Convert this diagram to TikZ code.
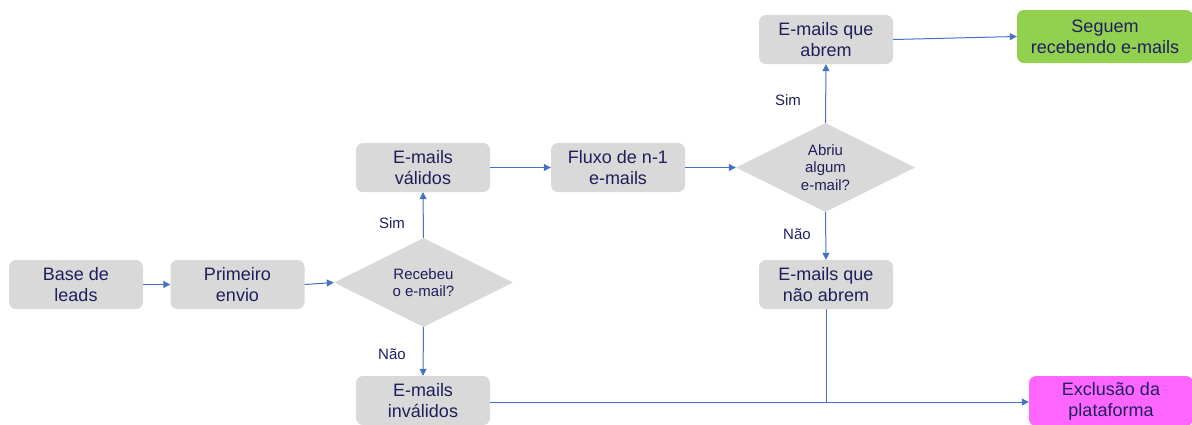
\documentclass[tikz,border=0pt]{standalone}
\usepackage{fontspec}
\setmainfont{Liberation Sans}
\usetikzlibrary{shapes.geometric,arrows.meta}
\definecolor{boxgray}{HTML}{D9D9D9}
\definecolor{txt}{HTML}{1F1F5C}
\definecolor{arr}{HTML}{4472C4}
\definecolor{okgreen}{HTML}{92D050}
\definecolor{delpink}{HTML}{FF66FF}
\tikzset{
  stepbox/.style={rectangle, rounded corners=7pt, fill=boxgray, draw=none,
    minimum width=134pt, minimum height=49pt, align=center, text=txt,
    font=\fontsize{18}{21}\selectfont, inner sep=0pt},
  decide/.style={diamond, fill=boxgray, draw=none, minimum width=179pt,
    minimum height=89pt, inner sep=0pt},
  dtext/.style={align=center, text=txt, inner sep=0pt,
    font=\fontsize{15}{17.5}\selectfont},
  lbl/.style={text=txt, font=\fontsize{15}{18}\selectfont, inner sep=0pt},
  conn/.style={draw=arr, line width=1pt, -{Triangle[length=7pt,width=7pt]}},
  plain/.style={draw=arr, line width=1pt}
}
\begin{document}
\begin{tikzpicture}[x=1pt,y=-1pt]
\useasboundingbox (0,0) rectangle (1192,424);
\clip (0,0) rectangle (1192,424);
\node[stepbox] (base) at (76,284.5) {Base de\\leads};
\node[stepbox] (prim) at (237.5,284.5) {Primeiro\\envio};
\node[decide, label={[dtext]center:Recebeu\\o e-mail?}] (d1) at (423.5,282.5) {};
\node[stepbox] (valid) at (423,167.5) {E-mails\\válidos};
\node[stepbox] (inval) at (423,400.5) {E-mails\\inválidos};
\node[stepbox] (fluxo) at (618,167.5) {Fluxo de n-1\\e-mails};
\node[decide, label={[dtext]center:Abriu\\algum\\e-mail?}] (d2) at (825.5,167.5) {};
\node[stepbox] (abrem) at (826,39.5) {E-mails que\\abrem};
\node[stepbox] (nabrem) at (826,284.5) {E-mails que\\não abrem};
\node[stepbox, fill=okgreen, minimum width=176pt, minimum height=53pt] (seguem) at (1105,36.5) {Seguem\\recebendo e-mails};
\node[stepbox, fill=delpink, minimum width=164pt, minimum height=50pt] (excl) at (1111,401) {Exclusão da\\plataforma};
\node[lbl] (sim1) at (392,223) {Sim};
\node[lbl] (nao1) at (392,354) {Não};
\node[lbl] (sim2) at (788,100) {Sim};
\node[lbl] (nao2) at (797,234) {Não};
\coordinate (join) at (826,402);
\draw[conn] (base) -- (prim);
\draw[conn] (prim.east) -- (d1.west);
\draw[conn] (d1.north) -- (valid.south);
\draw[conn] (d1.south) -- (inval.north);
\draw[conn] (valid) -- (fluxo);
\draw[conn] (fluxo) -- (d2);
\draw[conn] (d2.north) -- (abrem.south);
\draw[conn] (d2.south) -- (nabrem.north);
\draw[conn] (abrem.east) -- (seguem.west);
\draw[conn] (inval.east |- join) -- (excl.west |- join);
\draw[plain] (nabrem.south) -- (join);
\end{tikzpicture}
\end{document}
